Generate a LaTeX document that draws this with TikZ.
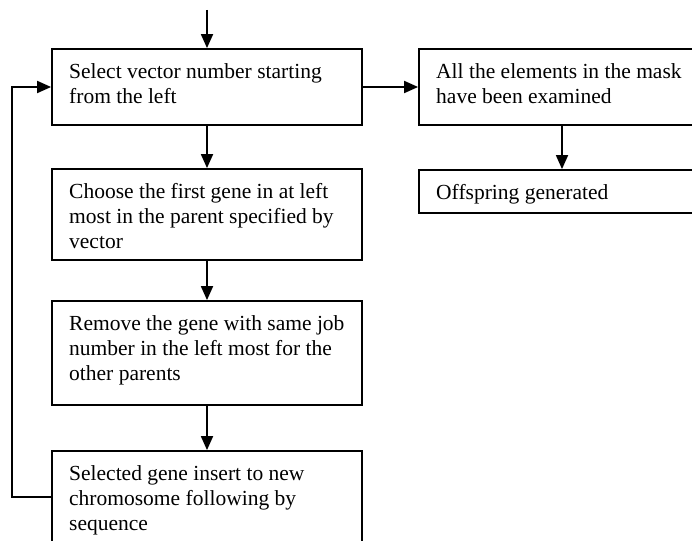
\documentclass[tikz,border=0pt]{standalone}
\usepackage{fontspec}
\setmainfont{Liberation Serif}
\usetikzlibrary{arrows.meta}
\begin{document}
\begin{tikzpicture}[x=1pt,y=-1pt,
  box/.style={draw=black,line width=1.8pt,minimum width=#1,inner sep=0pt,fill=none},
  box/.default=310pt,
  txt/.style={anchor=north west,inner sep=0pt,align=left,font=\fontsize{21.5}{24.7}\selectfont},
  arr/.style={line width=1.8pt,-{Triangle[length=14pt,width=12pt]}}]
\useasboundingbox (0,0) rectangle (692,540);
\clip (0,0) rectangle (692,540);
\fill[white] (0,0) rectangle (692,540);
% left column boxes
\node[box,minimum height=76pt] (b1) at (207,87) {};
\node[box,minimum height=91pt] (b2) at (207,214.5) {};
\node[box,minimum height=104pt] (b3) at (207,353) {};
\node[box,minimum height=92pt] (b4) at (207,497) {};
% right column boxes
\node[box=286pt,minimum height=76pt] (ba) at (562,87) {};
\node[box=286pt,minimum height=43pt] (bb) at (562,191.5) {};
% texts
\node[txt] (t1) at (69,63.5) {Select vector number starting\\from the left};
\node[txt] (t2) at (69,183.5) {Choose the first gene in at left\\most in the parent specified by\\vector};
\node[txt] (t3) at (69,315.5) {Remove the gene with same job\\number in the left most for the\\other parents};
\node[txt] (t4) at (69,465.5) {Selected gene insert to new\\chromosome following by\\sequence};
\node[txt] (ta) at (436,63.5) {All the elements in the mask\\have been examined};
\node[txt] (tb) at (436,184.5) {Offspring generated};
% connectors
\coordinate (start) at (207,10);
\draw[arr] (start) -- (b1.north);
\draw[arr] (b1.south) -- (b2.north);
\draw[arr] (b2.south) -- (b3.north);
\draw[arr] (b3.south) -- (b4.north);
\draw[arr] (b1.east) -- (ba.west);
\draw[arr] (ba.south) -- (bb.north);
\draw[arr] (b4.west) -- ++(-39,0) |- (b1.west);
\end{tikzpicture}
\end{document}
